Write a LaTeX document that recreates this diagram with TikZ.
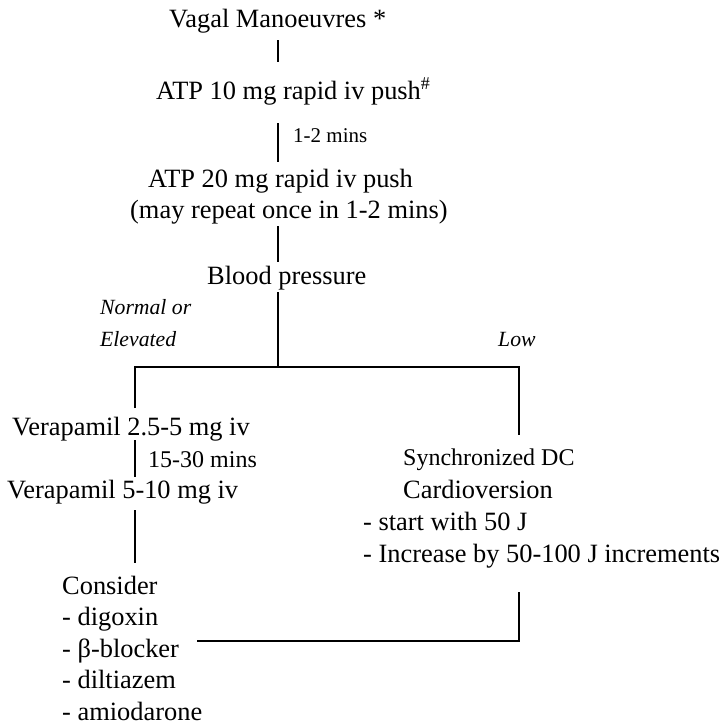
\documentclass[tikz,border=0pt]{standalone}
\usepackage{fontspec}
\setmainfont{Liberation Serif}
\begin{document}
\begin{tikzpicture}[x=1pt,y=-1pt,
  txt/.style={anchor=base west, inner sep=0pt, font=\fontsize{26.4}{30}\selectfont},
  note/.style={anchor=base west, inner sep=0pt, font=\fontsize{21}{24}\selectfont},
  mid/.style={anchor=base west, inner sep=0pt, font=\fontsize{24}{28}\selectfont},
  branch/.style={anchor=base west, inner sep=0pt, font=\fontsize{21.7}{25}\selectfont\itshape},
  link/.style={line width=2.2pt}]
\useasboundingbox (0,0) rectangle (728,726);

% main sequence
\node[txt] (vagal) at (169,27) {Vagal Manoeuvres *};
\node[txt] (atp10) at (156,99) {ATP 10 mg rapid iv push\raisebox{10pt}{\fontsize{18}{20}\selectfont\#}};
\node[note] (t12) at (293,142) {1-2 mins};
\node[txt] (atp20) at (148,187) {ATP 20 mg rapid iv push};
\node[txt] (repeat) at (130,218) {(may repeat once in 1-2 mins)};
\node[txt] (bp) at (207,284) {Blood pressure};

% branch labels
\node[branch] (normal) at (100,314) {Normal or};
\node[branch] (elev) at (100,346) {Elevated};
\node[branch] (low) at (498,346) {Low};

% left branch
\node[txt] (vera1) at (12,435) {Verapamil 2.5-5 mg iv};
\node[mid] (t1530) at (148,467) {15-30 mins};
\node[txt] (vera2) at (7,498) {Verapamil 5-10 mg iv};
\node[txt] (consider) at (62,594) {Consider};
\node[txt] (dig) at (62,625.5) {- digoxin};
\node[txt] (beta) at (62,657) {- β-blocker};
\node[txt] (dilt) at (62,688.5) {- diltiazem};
\node[txt] (amio) at (62,720) {- amiodarone};

% right branch
\node[mid] (sync) at (403,465) {Synchronized DC};
\node[txt] (cardio) at (403,498) {Cardioversion};
\node[txt] (start) at (363,530) {- start with 50 J};
\node[txt] (incr) at (363,562) {- Increase by 50-100 J increments};

% connector end points
\coordinate (a1) at (278,40);  \coordinate (a2) at (278,62);
\coordinate (b1) at (278,123); \coordinate (b2) at (278,162);
\coordinate (c1) at (278,226); \coordinate (c2) at (278,262);
\coordinate (d1) at (278,292); \coordinate (d2) at (278,367);
\coordinate (fl) at (135,367); \coordinate (fr) at (519,367);
\coordinate (fl2) at (135,408); \coordinate (fr2) at (519,435);
\coordinate (g1) at (135,440); \coordinate (g2) at (135,477);
\coordinate (h1) at (135,510); \coordinate (h2) at (135,563);
\coordinate (k1) at (519,592); \coordinate (k2) at (519,641);
\coordinate (k3) at (197,641);

\draw[link] (a1) -- (a2);
\draw[link] (b1) -- (b2);
\draw[link] (c1) -- (c2);
\draw[link] (d1) -- (d2);
\draw[link] (fl2) -- (fl) -- (fr) -- (fr2);
\draw[link] (g1) -- (g2);
\draw[link] (h1) -- (h2);
\draw[link] (k1) -- (k2) -- (k3);
\end{tikzpicture}
\end{document}
